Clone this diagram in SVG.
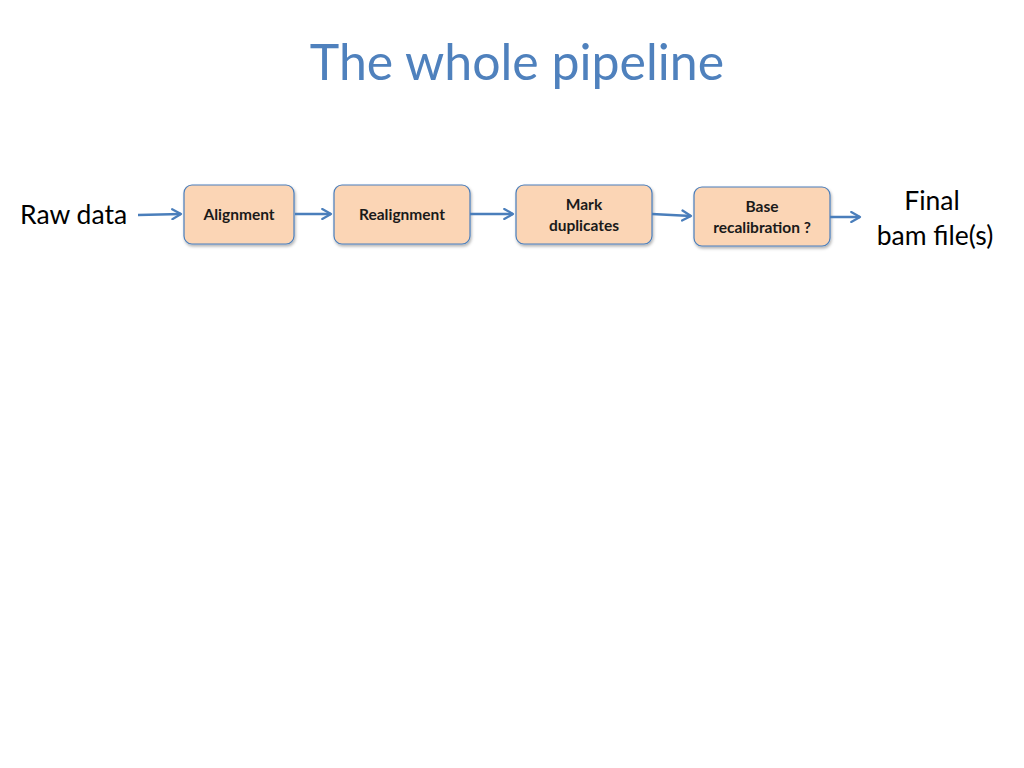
<svg xmlns="http://www.w3.org/2000/svg" width="1024" height="768" viewBox="0 0 1024 768">
<style>
.title{font-family:Lato,"Open Sans","Liberation Sans",sans-serif;font-size:50px;fill:#4F81BD}
.lbl{font-family:Lato,"Open Sans","Liberation Sans",sans-serif;font-size:26.5px;fill:#000}
.box{fill:#FBD5B5;stroke:#4A7EBB;stroke-width:1.2}
.bt{font-family:Lato,"Open Sans","Liberation Sans",sans-serif;font-size:15.5px;font-weight:bold;fill:#1a1a1a;text-anchor:middle}
.edge{stroke:#4A7EBB;stroke-width:2.5;fill:none;marker-end:url(#ah)}
</style>
<defs>
<marker id="ah" viewBox="0 0 10 10" refX="8" refY="5" markerWidth="5" markerHeight="5" orient="auto" markerUnits="strokeWidth">
<path d="M1,1 L8,5 L1,9" fill="none" stroke="#4A7EBB" stroke-width="1.8" stroke-linecap="round" stroke-linejoin="round"/>
</marker>
<filter id="sh" x="-10%" y="-10%" width="130%" height="140%">
<feDropShadow dx="1" dy="2" stdDeviation="1.5" flood-color="#000" flood-opacity="0.3"/>
</filter>
</defs>
<rect width="1024" height="768" fill="#fff"/>
<text class="title" x="517" y="80" text-anchor="middle">The whole pipeline</text>
<g id="raw"><text class="lbl" x="20" y="224">Raw data</text></g>
<g id="final"><text class="lbl" x="932" y="210" text-anchor="middle">Final</text><text class="lbl" x="935" y="245" text-anchor="middle">bam file(s)</text></g>
<g id="alignment"><rect class="box" filter="url(#sh)" x="184" y="185" width="110" height="59" rx="8"/><text class="bt" x="239" y="220">Alignment</text></g>
<g id="realignment"><rect class="box" filter="url(#sh)" x="334" y="185" width="136" height="59" rx="8"/><text class="bt" x="402" y="220">Realignment</text></g>
<g id="markdup"><rect class="box" filter="url(#sh)" x="516" y="185" width="136" height="59" rx="8"/><text class="bt" x="584" y="210">Mark</text><text class="bt" x="584" y="231">duplicates</text></g>
<g id="baserecal"><rect class="box" filter="url(#sh)" x="694" y="187" width="136" height="59" rx="8"/><text class="bt" x="762" y="212">Base</text><text class="bt" x="762" y="233">recalibration ?</text></g>
<g id="connectors">
<path class="edge" d="M138,215 L181,214"/>
<path class="edge" d="M295,214 L331,214"/>
<path class="edge" d="M470,214 L513,214"/>
<path class="edge" d="M652,214 L691,216"/>
<path class="edge" d="M830,217 L860,217"/>
</g>
</svg>
